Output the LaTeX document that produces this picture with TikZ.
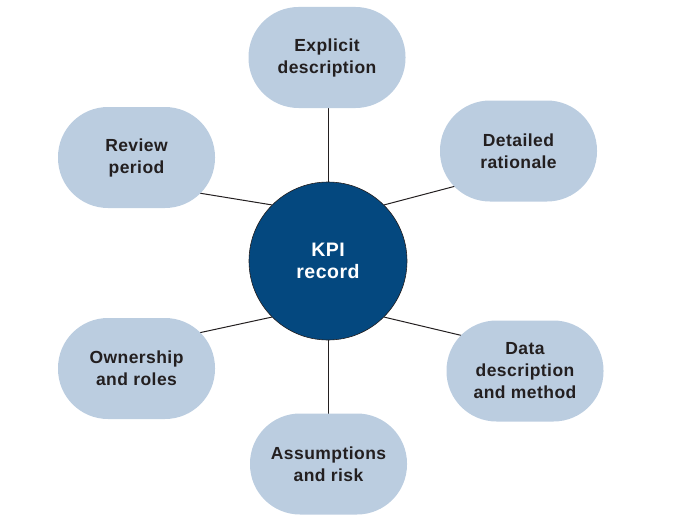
\documentclass[tikz,border=0pt]{standalone}
\usepackage{fontspec}
\setmainfont{Liberation Sans}[LetterSpace=2.5]
\usetikzlibrary{backgrounds,calc}
\definecolor{bubble}{RGB}{187,205,224}
\definecolor{kpiblue}{RGB}{4,72,127}
\definecolor{txt}{RGB}{35,31,32}
\begin{document}
\begin{tikzpicture}[x=1pt,y=-1pt,
  bubblebox/.style={fill=bubble, rounded corners=50pt, minimum width=157pt, minimum height=101pt,
    inner sep=0pt, align=center, text=txt, font=\fontsize{17.5}{22}\selectfont\bfseries},
  hub/.style={circle, fill=kpiblue, draw=txt, line width=0.6pt, minimum size=158pt, inner sep=0pt,
    align=center, text=white, font=\fontsize{19.5}{21.5}\selectfont\bfseries},
  link/.style={draw=txt, line width=1pt}]
\useasboundingbox (0,0) rectangle (675,527);
\node[hub] (kpi) at (328,261) {KPI\\record};
\node[bubblebox] (exp) at (327,57.5) {Explicit\\description};
\node[bubblebox] (rat) at (518.5,151) {Detailed\\rationale};
\node[bubblebox] (rev) at (136.5,157.5) {Review\\period};
\node[bubblebox] (own) at (136.5,368.5) {Ownership\\and roles};
\node[bubblebox] (dat) at (525,371) {Data\\description\\and method};
\node[bubblebox] (ass) at (328.5,464) {Assumptions\\and risk};
\begin{pgfonlayer}{background}
\draw[link] (kpi.90) -- (kpi.90 |- exp.center);
\draw[link] (kpi.270) -- (kpi.270 |- ass.center);
\draw[link] (kpi.135) -- ($(rev.center)+(55,34.3)$);
\draw[link] (kpi.45) -- ($(rat.center)+(-55,33)$);
\draw[link] (kpi.225) -- ($(own.center)+(55,-34)$);
\draw[link] (kpi.315) -- ($(dat.center)+(-57,-34)$);
\end{pgfonlayer}
\end{tikzpicture}
\end{document}
